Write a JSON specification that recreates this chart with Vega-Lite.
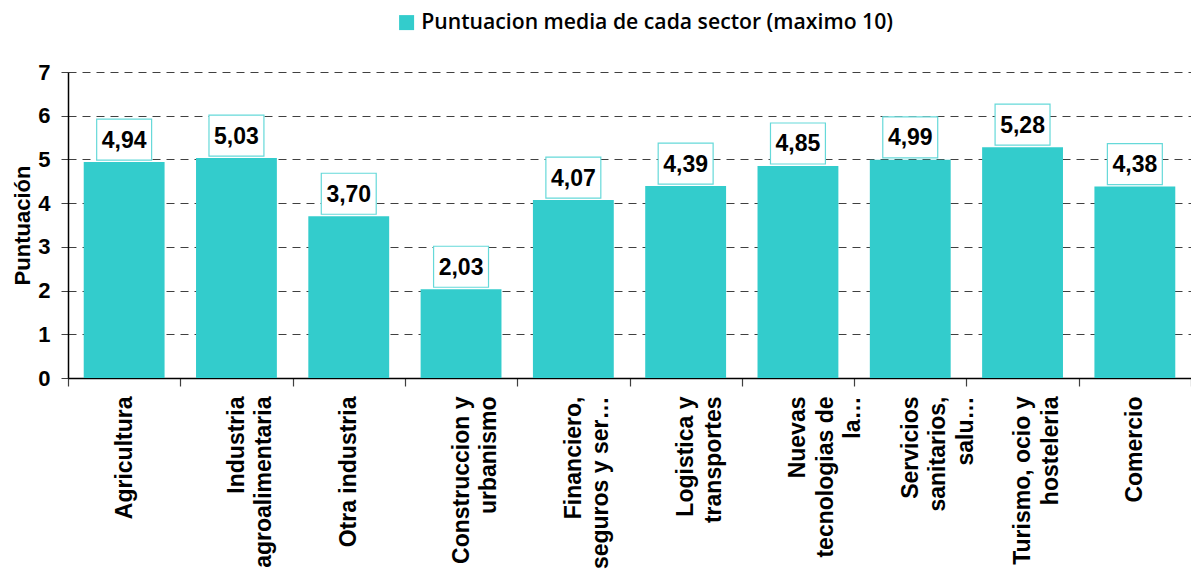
{
  "$schema": "https://vega.github.io/schema/vega-lite/v6.json",
  "autosize": {"type": "none"},
  "width": 1123,
  "height": 306,
  "padding": {"left": 68, "top": 72, "right": 0, "bottom": 192},
  "background": "white",
  "config": {
    "view": {"stroke": null},
    "locale": {"number": {"decimal": ",", "thousands": ".", "grouping": [3], "currency": ["", " €"]}}
  },
  "data": {
    "values": [
      {"sector": "Agricultura", "valor": 4.94},
      {"sector": "Industria|agroalimentaria", "valor": 5.03},
      {"sector": "Otra industria", "valor": 3.70},
      {"sector": "Construccion y|urbanismo", "valor": 2.03},
      {"sector": "Financiero,|seguros y ser…", "valor": 4.07},
      {"sector": "Logistica y|transportes", "valor": 4.39},
      {"sector": "Nuevas|tecnologias de|la…", "valor": 4.85},
      {"sector": "Servicios|sanitarios,|salu…", "valor": 4.99},
      {"sector": "Turismo, ocio y|hosteleria", "valor": 5.28},
      {"sector": "Comercio", "valor": 4.38}
    ]
  },
  "encoding": {
    "x": {
      "field": "sector",
      "type": "nominal",
      "sort": null,
      "scale": {"paddingInner": 0, "paddingOuter": 0},
      "axis": {
        "title": null,
        "labelExpr": "split(datum.label, '|')",
        "labelAngle": -90,
        "labelAlign": "right",
        "labelBaseline": "middle",
        "labelFont": "Liberation Sans",
        "labelFontWeight": "bold",
        "labelFontSize": 23,
        "labelLineHeight": 27.5,
        "labelColor": "#000000",
        "labelPadding": 10,
        "labelLimit": 300,
        "tickBand": "extent",
        "tickSize": 8,
        "tickColor": "#404040",
        "tickWidth": 1.2,
        "domainColor": "#000000",
        "domainWidth": 1.5,
        "grid": false
      }
    },
    "y": {
      "field": "valor",
      "type": "quantitative",
      "scale": {"domain": [0, 7], "nice": false},
      "axis": {
        "title": "Puntuación",
        "titleFont": "Liberation Sans",
        "titleFontWeight": "bold",
        "titleFontSize": 22,
        "titleColor": "#000000",
        "titleAngle": -90,
        "titleAlign": "center",
        "titleBaseline": "middle",
        "titleX": -46,
        "titleY": 153,
        "values": [0, 1, 2, 3, 4, 5, 6, 7],
        "format": "d",
        "labelFont": "Liberation Sans",
        "labelFontWeight": "bold",
        "labelFontSize": 22,
        "labelColor": "#000000",
        "labelPadding": 11,
        "tickSize": 7,
        "tickColor": "#404040",
        "domainColor": "#000000",
        "domainWidth": 1.5,
        "grid": true,
        "gridColor": "#404040",
        "gridDash": [8, 6],
        "gridWidth": 1
      }
    }
  },
  "layer": [
    {
      "mark": {"type": "bar", "width": {"band": 0.72}},
      "encoding": {
        "color": {
          "datum": "Puntuacion media de cada sector (maximo 10)",
          "type": "nominal",
          "scale": {"range": ["#33CCCC"]},
          "legend": {
            "title": null,
            "orient": "none",
            "legendX": 328,
            "legendY": -60,
            "padding": 0,
            "symbolType": "square",
            "symbolSize": 225,
            "symbolStrokeWidth": 0,
            "symbolOpacity": 1,
            "labelFont": "Open Sans",
            "labelFontWeight": 600,
            "labelFontSize": 21.2,
            "labelColor": "#000000",
            "labelOffset": 4,
            "labelLimit": 600
          }
        }
      }
    },
    {
      "mark": {
        "type": "point",
        "shape": "M-1.34,-1L1.34,-1L1.34,1L-1.34,1Z",
        "size": 1681,
        "filled": true,
        "fill": "white",
        "stroke": "#66D9D9",
        "strokeWidth": 1.2,
        "opacity": 1,
        "yOffset": -22.5
      },
      "encoding": {}
    },
    {
      "mark": {
        "type": "text",
        "font": "Liberation Sans",
        "fontWeight": "bold",
        "fontSize": 23,
        "color": "#000000",
        "baseline": "middle",
        "align": "center",
        "yOffset": -21.5
      },
      "encoding": {
        "text": {"field": "valor", "type": "quantitative", "format": ".2f"}
      }
    }
  ]
}
